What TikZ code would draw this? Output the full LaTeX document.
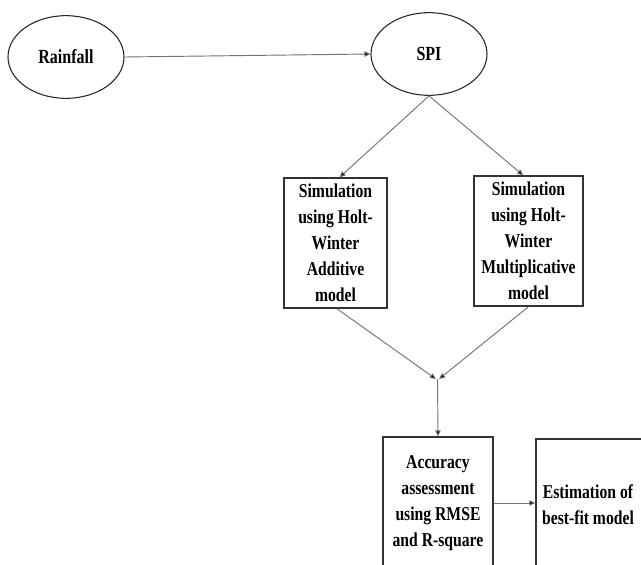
\documentclass[tikz,border=0pt]{standalone}
\usepackage{fontspec}
\newfontfamily\lblfont{Liberation Serif}[FakeStretch=0.8]
\usetikzlibrary{shapes.geometric,arrows.meta}
\definecolor{lncol}{RGB}{115,115,115}
\begin{document}
\begin{tikzpicture}[x=0.75pt,y=-0.75pt,
  ov/.style={ellipse,draw=black!85,line width=0.8pt,minimum width=87pt,minimum height=62pt,inner sep=0pt,
     font=\lblfont\bfseries\fontsize{15}{19.5}\selectfont},
  bx/.style={rectangle,draw=black!80,line width=1pt,inner sep=0pt,align=center,
     font=\lblfont\bfseries\fontsize{14.7}{19.5}\selectfont},
  conn/.style={draw=lncol,line width=0.7pt,-{Triangle[length=4.5pt,width=4pt,fill=black]}}]
\clip (0,0) rectangle (641,564);
\fill[white] (0,0) rectangle (641,564);
\node[ov] (rain) at (66,57) {Rainfall};
\node[ov] (spi) at (429,54) {SPI};
\node[bx,minimum width=77.25pt,minimum height=97.5pt] (add) at (335.5,243) {Simulation\\using Holt-\\Winter\\Additive\\model};
\node[bx,minimum width=81.75pt,minimum height=97.5pt] (mul) at (528.5,241) {Simulation\\using Holt-\\Winter\\Multiplicative\\model};
\node[bx,minimum width=82.5pt,minimum height=99pt] (acc) at (438,503) {Accuracy\\assessment\\using RMSE\\and R-square};
\node[bx,minimum width=96pt,minimum height=99pt] (est) at (600,505) {Estimation of\hspace*{18pt}\\best-fit model\hspace*{18pt}};
\coordinate (merge) at (437.5,379);
\draw[conn] (rain.east) -- (spi.west);
\draw[conn] (spi.south) -- ([xshift=3pt]add.north);
\draw[conn] (spi.south) -- ([xshift=-4pt]mul.north);
\draw[conn] ([xshift=1pt]add.south) -- ([xshift=-1.2pt]merge);
\draw[conn] (mul.south) -- ([xshift=1.2pt]merge);
\draw[conn] (merge) -- (acc.north);
\draw[conn] (acc.east) -- (acc.east -| est.west);
\end{tikzpicture}
\end{document}
